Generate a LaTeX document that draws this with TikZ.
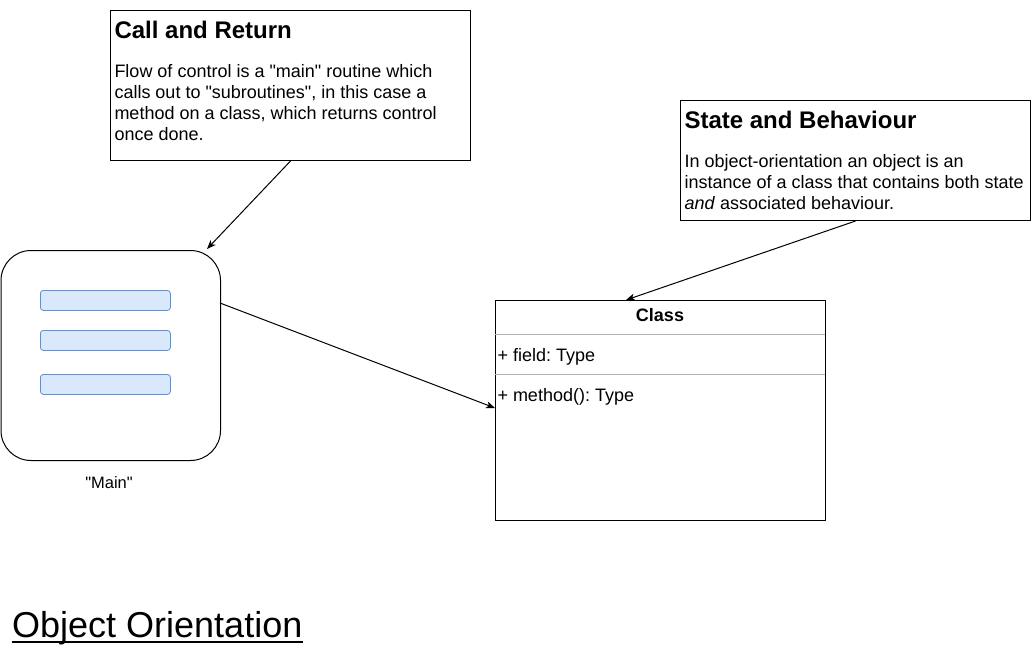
\documentclass[tikz,border=0pt]{standalone}
\usepackage{fontspec}
\setmainfont{Liberation Sans}
\usepackage{tikz}
\usetikzlibrary{arrows.meta}
\definecolor{barfill}{HTML}{DAE8FC}
\definecolor{barline}{HTML}{6C8EBF}
\definecolor{divline}{HTML}{B3B3B3}
\newcommand{\dq}{\textquotedbl}
\frenchspacing

\begin{document}
\begin{tikzpicture}[->,>={Stealth[length=9pt,width=7pt,inset=2.5pt]},x=1pt,y=-1pt,line width=1pt,
		notebox/.style={draw,-,inner sep=0,anchor=north west},
		listbar/.style={draw=barline,fill=barfill,-,line width=0.8pt,rounded corners=3pt,minimum width=130pt,minimum height=20pt,inner sep=0,anchor=north west},
		head/.style={inner sep=0,anchor=base west,font=\fontsize{24}{28}\selectfont\bfseries},
		body/.style={inner sep=0,anchor=north west,align=left,font=\fontsize{18}{21}\selectfont},
		member/.style={inner sep=0,anchor=base west,font=\fontsize{18}{21}\selectfont}]

	\useasboundingbox (0,0) rectangle (1031,651);

	% notes
	\node[notebox,minimum width=360pt,minimum height=150pt] (callbox) at (110,10) {};
	\node[head] (callhead) at (114,38.3) {Call and Return};
	\node[body] (calltext) at (114,64) {Flow of control is a \dq main\dq{} routine which\\calls out to \dq subroutines\dq, in this case a\\method on a class, which returns control\\once done.};

	\node[notebox,minimum width=350pt,minimum height=120pt] (statebox) at (680,100) {};
	\node[head] (statehead) at (684,128.3) {State and Behaviour};
	\node[body] (statetext) at (684,153.6) {In object-orientation an object is an\\instance of a class that contains both state\\\emph{and} associated behaviour.};

	% main routine
	\node[notebox,rounded corners=30pt,minimum width=219.5pt,minimum height=210pt] (mainbox) at (0.5,250) {};
	\node[listbar] (bar1) at (40,290) {};
	\node[listbar] (bar2) at (40,330) {};
	\node[listbar] (bar3) at (40,374) {};
	\node[inner sep=0,anchor=base,font=\fontsize{16.5}{20}\selectfont] (mainlabel) at (109,488.5) {\dq Main\dq};

	% class
	\node[notebox,minimum width=330pt,minimum height=220pt] (classbox) at (495,300) {};
	\node[inner sep=0,anchor=base,font=\fontsize{18}{21}\selectfont\bfseries] (classname) at (660,321.7) {Class};
	\draw[-,divline] (495,334) -- (825,334);
	\draw[-,divline] (495,374) -- (825,374);
	\node[member] (field) at (497,361.7) {+ field: Type};
	\node[member] (method) at (497,401.7) {+ method(): Type};

	\node[inner sep=0,anchor=base west,font=\fontsize{36}{40}\selectfont] (pagetitle) at (11.7,637.7) {Object Orientation};
	\draw[-,line width=2pt] ([yshift=-4pt]pagetitle.base west) -- ([yshift=-4pt]pagetitle.base east);

	\coordinate (calltip) at (207,249);
	\coordinate (classtip) at (626,300);
	\coordinate (mainout) at (220,303);
	\coordinate (classin) at (495,408);

	\path (callbox.south) edge (calltip);
	\path (statebox.south) edge (classtip);
	\path (mainout) edge (classin);
\end{tikzpicture}
\end{document}
